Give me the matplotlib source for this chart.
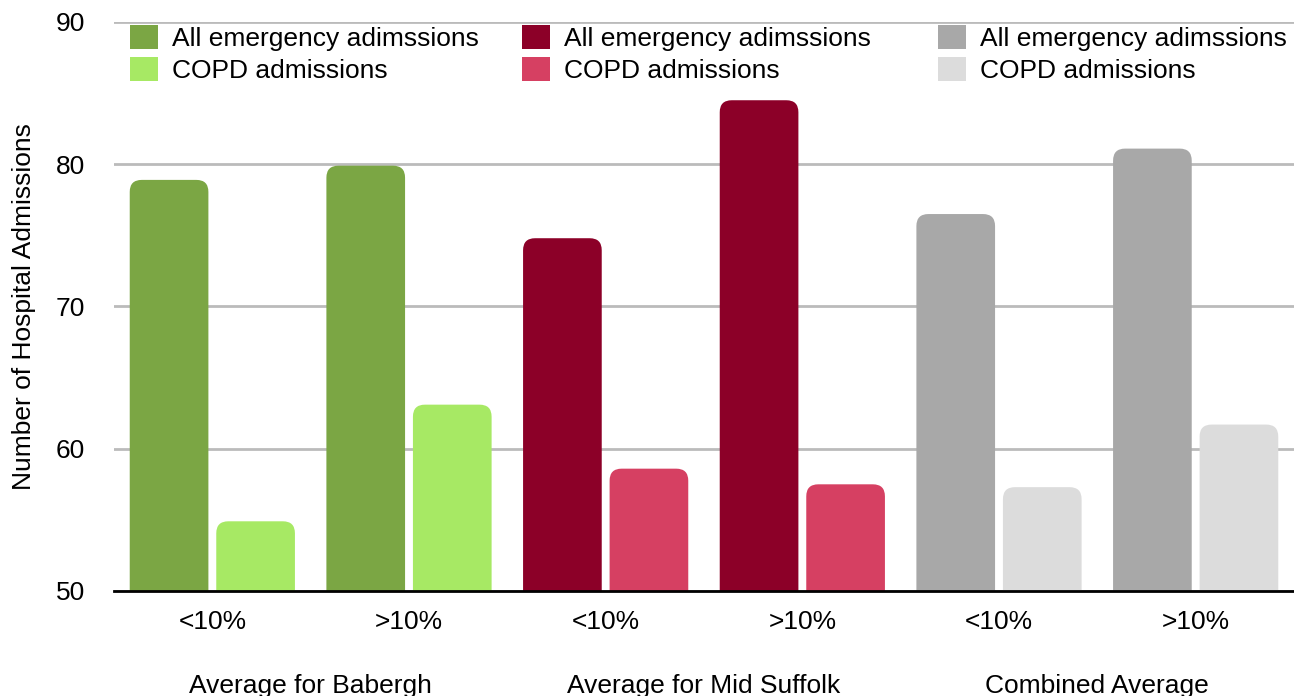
import matplotlib
matplotlib.use("Agg")
import matplotlib.pyplot as plt
from matplotlib.patches import FancyBboxPatch, Patch
import numpy as np

plt.rcParams['font.family'] = ['Liberation Sans', 'DejaVu Sans']

groups = ["Average for Babergh", "Average for Mid Suffolk", "Combined Average"]
subcats = ["<10%", ">10%"]
all_emergency = [78.9, 79.9, 74.8, 84.5, 76.5, 81.1]
copd = [54.9, 63.1, 58.6, 57.5, 57.3, 61.7]
series_names = ["All emergency adimssions", "COPD admissions"]
dark_colors = ["#7BA644", "#8C0028", "#A8A8A8"]
light_colors = ["#A7E964", "#D64062", "#DCDCDC"]

W, H = 1294, 696
FS = 19
fig = plt.figure(figsize=(W / 100, H / 100), dpi=100)
ax = fig.add_axes([114 / W, (H - 591) / H, (1294 - 114) / W, (591 - 22) / H])

ymin, ymax = 50, 90
ax.set_ylim(ymin, ymax)
ncat = len(all_emergency)
ax.set_xlim(-0.5, ncat - 0.5)

bw = 0.40
gap = 0.04
px_per_x = (1294 - 114) / ncat
px_per_y = (591 - 22) / (ymax - ymin)
r_px = 12
rx = r_px / px_per_x
aspect = px_per_x / px_per_y


def rbar(x0, width, top, color):
    bottom = ymin - 2
    p = FancyBboxPatch((x0 + rx, bottom), width - 2 * rx, top - bottom - rx * aspect,
                       boxstyle=f"round,pad={rx},rounding_size={rx}",
                       mutation_aspect=aspect,
                       facecolor=color, edgecolor='none', zorder=3, clip_on=True)
    ax.add_patch(p)


for i in range(ncat):
    g = i // 2
    rbar(i - gap / 2 - bw, bw, all_emergency[i], dark_colors[g])
    rbar(i + gap / 2, bw, copd[i], light_colors[g])

ax.set_yticks([50, 60, 70, 80, 90])
ax.yaxis.grid(True, color="#BBBBBB", linewidth=2)
ax.set_axisbelow(True)
for s in ['top', 'right', 'left']:
    ax.spines[s].set_visible(False)
ax.spines['bottom'].set_color('black')
ax.spines['bottom'].set_linewidth(2)
ax.spines['bottom'].set_zorder(5)
ax.tick_params(axis='both', length=0, labelsize=FS)
ax.tick_params(axis='y', pad=21)
ax.tick_params(axis='x', pad=13.5)
ax.set_xticks(range(ncat))
ax.set_xticklabels(subcats * 3)
ax.set_ylabel("Number of Hospital Admissions", fontsize=FS)
ax.yaxis.set_label_coords((36 - 114) / (1294 - 114), 0.5)

for g, name in enumerate(groups):
    ax.text(2 * g + 0.5, -(686 - 591) / (591 - 22), name, transform=ax.get_xaxis_transform(),
            ha='center', va='center', fontsize=FS)

# legends
leg_x = [130, 522, 938]
for g in range(3):
    handles = [Patch(facecolor=dark_colors[g]), Patch(facecolor=light_colors[g])]
    leg = fig.legend(handles, series_names, loc='upper left',
                     bbox_to_anchor=(leg_x[g] / W, 1 - 25 / H),
                     frameon=False, fontsize=FS, handlelength=1.05, handleheight=1.0,
                     handletextpad=0.55, labelspacing=0.25, borderpad=0, borderaxespad=0)

fig.savefig("out.png", dpi=100)
